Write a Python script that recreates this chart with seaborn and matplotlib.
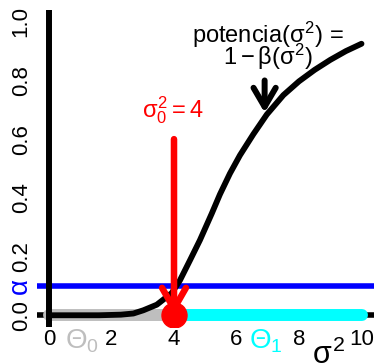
import matplotlib
matplotlib.use("Agg")
import matplotlib.pyplot as plt
import seaborn as sns
import pandas as pd
from matplotlib.patches import FancyArrowPatch, ArrowStyle

# ---- data ----
sigma2 = [0, 1.6, 2.3, 2.7, 3.02, 3.45, 3.93, 4.19, 4.51, 4.83, 5.21, 5.47,
          5.79, 6.11, 6.54, 6.97, 7.5, 8.0, 8.5, 9.0, 9.5, 10.0]
power = [0, 0.0, 0.002, 0.006, 0.017, 0.036, 0.076, 0.119, 0.187, 0.256, 0.347, 0.412,
         0.483, 0.545, 0.617, 0.684, 0.750, 0.797, 0.836, 0.870, 0.900, 0.925]
alpha_level = 0.1
sigma0_sq = 4
theta0_range = [0, 4]
theta1_range = [4, 10]
x_ticks = [0, 2, 4, 6, 8, 10]
y_ticks = [0.0, 0.2, 0.4, 0.6, 0.8, 1.0]
y_tick_labels = ["0.0", "0.2", "0.4", "0.6", "0.8", "1.0"]
power_arrow_x = 6.9
power_arrow_y = [0.80, 0.69]
red_arrow_y = [0.6, 0.0]

sns.set_style("white")
plt.rcParams["font.family"] = ["Liberation Sans", "DejaVu Sans"]
plt.rcParams["mathtext.fontset"] = "custom"
plt.rcParams["mathtext.rm"] = "Liberation Sans"
plt.rcParams["mathtext.it"] = "Liberation Sans"
plt.rcParams["mathtext.bf"] = "Liberation Sans:bold"

fig = plt.figure(figsize=(3.74, 3.64), dpi=100)
ax = fig.add_axes([36.5 / 374, 1 - 327 / 364, 337.5 / 374, 317 / 364])
ax.set_xlim(-0.4, 10.4)
ax.set_ylim(-0.04, 1.04)
for s in ax.spines.values():
    s.set_visible(False)

# reference lines
ax.axhline(alpha_level, color="#0000FF", lw=4, zorder=1)
ax.axhline(0, color="black", lw=4, zorder=1.5)
ax.plot(theta0_range, [0, 0], color="#BEBEBE", lw=8.6, solid_capstyle="round", zorder=2)
ax.plot(theta1_range, [0, 0], color="#00FFFF", lw=8.6, solid_capstyle="round", zorder=2)
ax.axvline(0, color="black", lw=4.3, zorder=2.5)

# power curve
df = pd.DataFrame({"sigma2": sigma2, "power": power})
sns.lineplot(data=df, x="sigma2", y="power", ax=ax, color="black", lw=4.2,
             zorder=3, solid_capstyle="round", solid_joinstyle="round")

# red arrow and point
red_arrow = FancyArrowPatch((sigma0_sq, red_arrow_y[0]), (sigma0_sq, red_arrow_y[1]),
                            arrowstyle=ArrowStyle("->", head_length=15, head_width=8.6),
                            mutation_scale=1, lw=4.7, color="red", capstyle="round",
                            joinstyle="round", shrinkA=0, shrinkB=0, zorder=4)
ax.add_patch(red_arrow)
ax.plot([sigma0_sq], [0], "o", ms=18, color="red", mec="red", zorder=5)

# black arrow to the curve
blk_arrow = FancyArrowPatch((power_arrow_x, power_arrow_y[0]), (power_arrow_x, power_arrow_y[1]),
                            arrowstyle=ArrowStyle("->", head_length=13.7, head_width=8),
                            mutation_scale=1, lw=4.3, color="black", capstyle="round",
                            joinstyle="round", shrinkA=0, shrinkB=0, zorder=4)
ax.add_patch(blk_arrow)

# ticks
ax.set_xticks(x_ticks)
ax.set_xticklabels([str(t) for t in x_ticks])
ax.set_yticks(y_ticks)
ax.set_yticklabels(y_tick_labels, rotation=90, va="center")
ax.tick_params(axis="both", length=0, labelsize=16, colors="black")
ax.tick_params(axis="x", pad=1.5)
ax.tick_params(axis="y", pad=3.5)
ax.set_xlabel("")
ax.set_ylabel("")

# annotations
ax.text(-0.944, alpha_level, "α", color="#0000FF", fontsize=20, rotation=90,
        ha="center", va="center", clip_on=False)
ax.text(1.05, -0.1116, r"$\Theta_0$", color="#BEBEBE", fontsize=20,
        ha="center", va="baseline", clip_on=False)
ax.text(6.95, -0.1116, r"$\Theta_1$", color="#00FFFF", fontsize=20,
        ha="center", va="baseline", clip_on=False)
ax.text(7.0, 0.954, r"potencia$(\sigma^2)$ =", color="black", fontsize=17,
        ha="center", va="center")
ax.text(7.0, 0.879, r"$1-\beta(\sigma^2)$", color="black", fontsize=17,
        ha="center", va="center")
ax.text(3.97, 0.70, r"$\sigma_0^2 = 4$", color="red", fontsize=17,
        ha="center", va="center")
fig.text(312 / 374, 0.0, r"$\sigma^2$", color="black", fontsize=22,
         ha="left", va="baseline")

fig.savefig("out.png", dpi=100)
